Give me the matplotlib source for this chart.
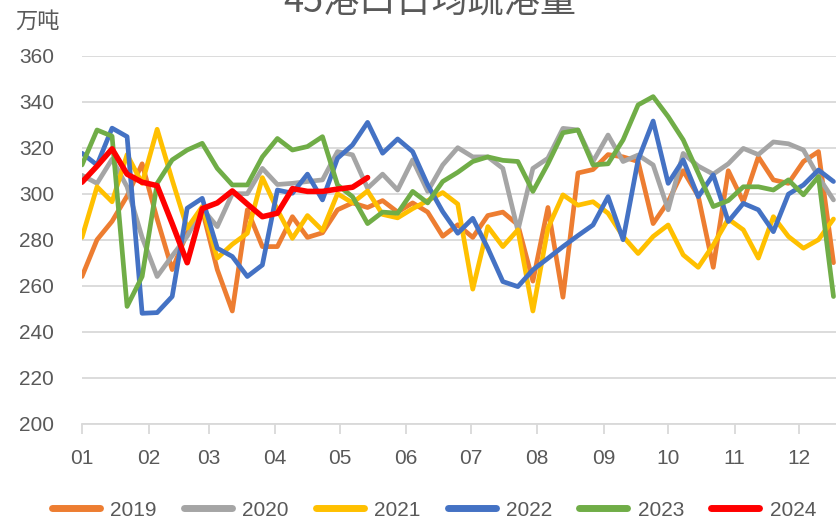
import numpy as np
import pandas as pd
import matplotlib
matplotlib.use('Agg')
import matplotlib.pyplot as plt
import matplotlib.dates as mdates

title = '45港口日均疏港量'
unit = '万吨'
years = ['2019', '2020', '2021', '2022', '2023', '2024']
colors = ['#ED7D31', '#A5A5A5', '#FFC000', '#4472C4', '#70AD47', '#FF0000']

v2019 = [264, 280, 288, 299, 313, 289, 267, 283, 293, 267, 249, 293, 277, 277, 290, 281,
         283, 293, 296, 294, 297, 292, 296, 292, 281.5, 286.5, 281, 290.5, 292, 286.5, 262,
         294, 255, 309, 310.5, 317, 316, 314, 287, 296.5, 310, 299, 268, 310, 296.5, 316,
         306, 304.5, 314, 318.3, 270]
v2020 = [308, 304.5, 315, 303, 281, 264, 273, 281.5, 293.5, 285.7, 300, 300, 311, 304,
         304.5, 305.3, 306, 318.3, 316.9, 302.4, 308.5, 301.6, 314.7, 301, 312.5, 320, 316,
         316, 311, 284, 311, 315.4, 328.4, 327.7, 314, 325.5, 314, 316.8, 312.5, 293, 317.5,
         312, 308.5, 313, 319.7, 317, 322.5, 321.7, 319, 307.4, 297.3]
v2021 = [281, 303, 296.5, 317, 304.5, 328, 306, 285, 294.4, 272, 278, 282.8, 307, 293,
         280.6, 290.5, 284, 300, 296, 301.2, 291, 289.5, 293.5, 297, 300.5, 295.5, 258.5,
         285.7, 277, 284.3, 249, 285, 299.5, 295, 296.5, 291.5, 281.4, 274, 281.4, 286.4,
         273.4, 268, 277.7, 289, 284.3, 272, 290, 281.4, 276.3, 280, 289]
v2022 = [317.6, 312.5, 328.5, 324.8, 248, 248.3, 255.3, 293.7, 298, 276.3, 272.7, 264, 269,
         301.6, 300.2, 308.5, 297.3, 315.4, 321.2, 331, 317.6, 323.8, 318.3, 303.8, 292.2,
         282.8, 289.3, 276.3, 261.8, 259.6, 266.9, 271.9, 277, 281.8, 286.4, 298.7, 280,
         314.7, 331.6, 304.5, 314.7, 298.7, 308.2, 287.9, 295.8, 293, 283.5, 299.8, 303.8,
         310.3, 305.3]
v2023 = [312.5, 327.7, 325, 251, 264, 304.5, 314.7, 319, 321.9, 311, 303.8, 303.8, 316, 324,
         319, 320.5, 324.8, 303.8, 298.7, 287, 292, 291.5, 301, 296, 305.3, 309.3, 314, 316,
         314.5, 314, 301, 313, 326.5, 327.7, 312.5, 313, 323.4, 338.6, 342.2, 333.5, 323.4,
         309, 294.4, 297, 303, 303, 301.6, 306, 299.5, 307.4, 255.3]
v2024 = [305, 312, 319.5, 308.5, 305, 303.5, 287, 270, 293.5, 296, 301.2, 295.5, 290, 291.5,
         302.2, 301, 301, 302, 302.8, 307]
series = [v2019, v2020, v2021, v2022, v2023, v2024]

text_color = '#595959'
grid_color = '#D9D9D9'
cjk = ['Noto Sans CJK SC', 'DejaVu Sans']
plt.rcParams['font.family'] = ['Liberation Sans', 'DejaVu Sans']

W, H = 836, 519
fig = plt.figure(figsize=(W / 100, H / 100), dpi=100)
ax = fig.add_axes([82 / W, (H - 423.7) / H, 783.7 / W, 368 / H])

for yr, vals, c in zip(years, series, colors):
    dates = pd.date_range('2019-01-01', periods=len(vals), freq='7D')
    ax.plot(dates, vals, color=c, lw=4.0 if yr == '2024' else 3.4,
            solid_joinstyle='round', solid_capstyle='round', label=yr)

ax.set_xlim(pd.Timestamp('2019-01-01'), pd.Timestamp('2020-01-01'))
ax.set_ylim(200, 360)
ax.set_yticks(np.arange(200, 361, 20))
ax.yaxis.grid(True, color=grid_color, lw=1.3)
ax.set_axisbelow(True)
for s in ['top', 'right', 'left']:
    ax.spines[s].set_visible(False)
ax.spines['bottom'].set_color(grid_color)
ax.spines['bottom'].set_linewidth(1.3)
ax.set_xticks(pd.date_range('2019-01-01', periods=12, freq='MS'))
ax.xaxis.set_major_formatter(mdates.DateFormatter('%m'))
ax.tick_params(axis='x', length=7, color=grid_color, width=1.3, pad=11,
               labelsize=15, labelcolor=text_color)
ax.tick_params(axis='y', length=0, pad=20, labelsize=15, labelcolor=text_color)

fig.text(430 / W, 1 - 2 / H, title, ha='center', va='center', fontsize=26,
         color=text_color, family=cjk)
fig.text(37 / W, 1 - 21 / H, unit, ha='center', va='center', fontsize=16,
         color=text_color, family=cjk)

handles, labels = ax.get_legend_handles_labels()
leg = fig.legend(handles, labels, loc='center', bbox_to_anchor=(434 / W, 9 / H), ncol=6,
                 frameon=False, fontsize=15, handlelength=2.3, handletextpad=0.5,
                 columnspacing=1.3)
for t in leg.get_texts():
    t.set_color(text_color)
for l in leg.get_lines():
    l.set_linewidth(5)

fig.savefig('out.png', dpi=100)
